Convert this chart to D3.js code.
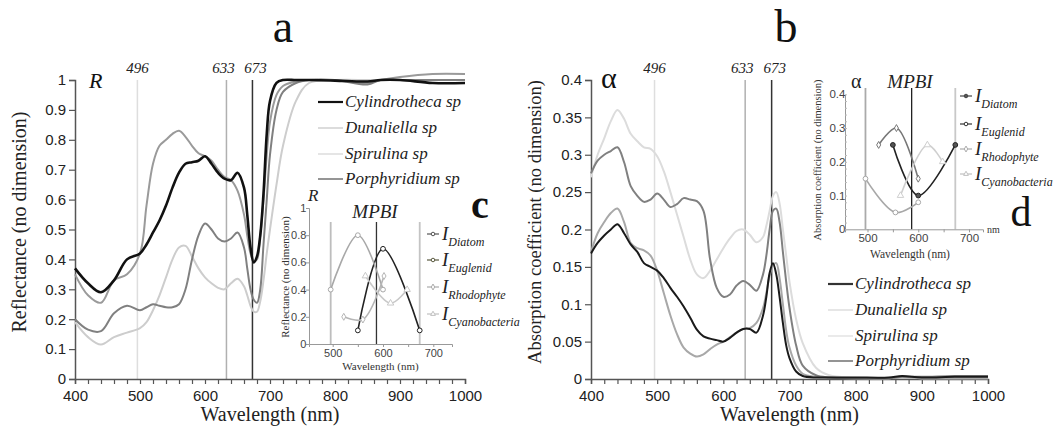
<!DOCTYPE html>
<html><head><meta charset="utf-8">
<script src="https://cdn.jsdelivr.net/npm/d3@7/dist/d3.min.js"></script>
<style>body{margin:0;background:#fff}svg{display:block}</style>
</head><body><svg id="c" width="1054" height="430"></svg>
<script>
// ---------- DATA ----------
const seriesNames = ["Cylindrotheca sp","Dunaliella sp","Spirulina sp","Porphyridium sp"];
const markerNm = [496, 633, 673];
// Panel a: reflectance
const wlA = [400,420,440,460,480,500,510,520,530,540,550,560,570,580,590,600,610,620,630,640,650,660,665,670,675,680,685,690,695,700,710,720,740,760,800,850,870,900,950,1000];
const cylA = [.37,.32,.29,.33,.40,.42,.45,.49,.53,.58,.64,.69,.72,.725,.73,.745,.72,.69,.67,.665,.69,.64,.55,.44,.39,.41,.48,.62,.82,.93,.99,1.0,1.0,1.0,.998,.995,1.0,1.0,.99,.99];
const dunA = [.35,.28,.255,.33,.35,.42,.58,.72,.78,.80,.82,.83,.81,.78,.755,.745,.73,.70,.675,.665,.63,.55,.48,.42,.395,.40,.48,.60,.75,.86,.95,.98,.995,1.0,1.0,.99,1.0,1.01,1.02,1.02];
const spiA = [.19,.14,.115,.14,.155,.17,.19,.23,.28,.34,.40,.44,.445,.41,.37,.34,.32,.305,.30,.32,.335,.31,.28,.245,.225,.225,.26,.33,.42,.50,.65,.78,.93,.99,1.0,1.0,1.0,1.0,1.0,1.0];
const porA = [.20,.165,.16,.22,.245,.23,.24,.25,.245,.24,.24,.25,.30,.40,.48,.52,.50,.47,.46,.47,.49,.44,.37,.30,.265,.255,.30,.45,.60,.75,.90,.96,.99,1.0,1.0,.985,1.0,1.0,1.0,1.0];
// Panel b: absorption coefficient
const wlB = [400,410,420,430,440,450,460,470,480,490,500,510,520,530,540,550,560,570,580,590,600,610,620,630,640,650,660,665,670,675,680,685,690,695,700,710,720,740,760,800,850,870,900,950,1000];
const cylB = [.168,.182,.192,.200,.207,.195,.180,.170,.155,.150,.145,.135,.122,.110,.097,.082,.066,.057,.054,.052,.050,.055,.062,.067,.067,.062,.085,.110,.142,.155,.140,.110,.075,.045,.028,.010,.004,.002,.002,.002,.002,.004,.002,.003,.003];
const dunB = [.170,.195,.210,.222,.228,.210,.182,.175,.172,.165,.145,.115,.085,.060,.042,.034,.030,.033,.040,.046,.050,.056,.062,.067,.068,.075,.095,.115,.138,.152,.155,.135,.100,.065,.042,.018,.007,.003,.002,.001,.001,.002,.001,.001,.001];
const spiB = [.270,.300,.322,.345,.360,.348,.328,.318,.310,.308,.298,.278,.250,.220,.190,.160,.140,.135,.145,.160,.175,.188,.198,.200,.193,.183,.190,.205,.225,.245,.250,.235,.200,.165,.130,.080,.048,.015,.005,.002,.001,.002,.001,.001,.001];
const porB = [.275,.292,.300,.305,.310,.290,.258,.245,.237,.240,.248,.240,.230,.234,.242,.240,.238,.225,.160,.122,.110,.113,.125,.131,.126,.118,.140,.165,.200,.225,.228,.210,.170,.130,.095,.045,.018,.005,.002,.001,.001,.003,.003,.004,.004];
// Insets c (reflectance) and d (absorption): MPBI indices
const indexNames = ["Diatom","Euglenid","Rhodophyte","Cyanobacteria"];
const mpbiNm = [496, 587, 673];
const diatomC_x = [550,600,673], diatomC_y = [0.1,0.7,0.1];
const euglC_x = [496,550,600],  euglC_y = [0.4,0.8,0.4];
const rhodC_x = [522,560,602],  rhodC_y = [0.2,0.18,0.5];
const cyanC_x = [565,615,648],  cyanC_y = [0.5,0.3,0.4];
const diatomD_x = [550,600,673], diatomD_y = [0.25,0.1,0.25];
const euglD_x = [496,555,600],  euglD_y = [0.15,0.05,0.08];
const rhodD_x = [522,557,600],  rhodD_y = [0.25,0.30,0.15];
const cyanD_x = [565,618,648],  cyanD_y = [0.1,0.25,0.2];
const yTicksA = [0,0.1,0.2,0.3,0.4,0.5,0.6,0.7,0.8,0.9,1];
const yTicksB = [0,0.05,0.1,0.15,0.2,0.25,0.3,0.35,0.4];
const xTicks = [400,500,600,700,800,900,1000];

// ---------- DRAW ----------
const svg = d3.select("#c");
const SERIF = '"Liberation Serif", "Times New Roman", Times, "DejaVu Serif", "Noto Serif", serif';
const SANS = '"Liberation Sans", Arial, sans-serif';
const fmt = v => String(+v.toFixed(2));
const colA = ["#111","#9a9a9a","#cdcdcd","#808080"];
const colB = ["#1a1a1a","#a8a8a8","#dcdcdc","#808080"];
const legColA = ["#111","#d8d8d8","#e2e2e2","#8a8a8a"];
const legColB = ["#333","#e4e4e4","#e8e8e8","#888"];
const widA = [2.6,2,2,2];
const widB = [2,2,2,2];
const vlineCol = ["#dedede","#b0b0b0","#333"];

function T(sel){ return sel.style("font-family", SERIF); }

function mainPanel(o){
  const g = svg.append("g");
  const x = d3.scaleLinear().domain([400,1000]).range(o.xr);
  const y = d3.scaleLinear().domain([0,o.ymax]).range([379,80]);
  markerNm.forEach((nm,i)=>{
    g.append("line").attr("x1",x(nm)).attr("x2",x(nm)).attr("y1",y(o.ymax)).attr("y2",y(0))
      .attr("stroke",vlineCol[i]).attr("stroke-width",1.5);
  });
  g.selectAll("text.vl").data(markerNm).join("text")
    .attr("x",d=>x(d)+(d===633?-3:d===673?3:0)).attr("y",73).attr("text-anchor","middle")
    .call(T).attr("font-style","italic").attr("font-size",15).attr("fill","#222").text(d=>d);
  const xa = d3.axisBottom(x).tickValues(d3.range(400,1001,20)).tickSize(5).tickFormat(d=>xTicks.includes(d)?d:"");
  const gx = g.append("g").attr("transform","translate(0,379)").call(xa);
  gx.select(".domain").attr("stroke","#555").attr("stroke-width",1.5);
  gx.selectAll(".tick line").attr("stroke","#555").attr("stroke-width",1.2);
  gx.selectAll("text").style("font-family",SANS).attr("font-size",15).attr("fill","#222").attr("dy","0.95em");
  const ya = d3.axisLeft(y).tickValues(o.yt).tickSize(6).tickFormat(fmt);
  const gy = g.append("g").attr("transform",`translate(${o.xr[0]},0)`).call(ya);
  gy.select(".domain").attr("stroke","#555").attr("stroke-width",1.5);
  gy.selectAll(".tick line").attr("stroke","#555").attr("stroke-width",1.2);
  gy.selectAll("text").style("font-family",SANS).attr("font-size",15).attr("fill","#222");
  const line = d3.line().curve(d3.curveCatmullRom.alpha(0.5)).x(d=>x(d[0])).y(d=>y(d[1]));
  [2,1,3,0].forEach(i=>{
    g.append("path").datum(o.wl.map((w,k)=>[w,o.vals[i][k]])).attr("d",line)
      .attr("fill","none").attr("stroke",o.col[i]).attr("stroke-width",o.wid[i]);
  });
  seriesNames.forEach((n,i)=>{
    const ly = o.ly[i];
    g.append("line").attr("x1",o.lx).attr("x2",o.lx+25).attr("y1",ly).attr("y2",ly)
      .attr("stroke",o.lcol[i]).attr("stroke-width",i===0?2.2:1.8);
    g.append("text").attr("x",o.lx+27).attr("y",ly+5).call(T).attr("font-style","italic")
      .attr("font-size",17).attr("fill","#222").text(n);
  });
  g.append("text").attr("x",o.tx).attr("y",42).attr("text-anchor","middle").call(T)
    .attr("font-size",46).attr("fill","#111").text(o.title);
  g.append("text").attr("x",(o.xr[0]+o.xr[1])/2).attr("y",421).attr("text-anchor","middle").call(T)
    .attr("font-size",20).attr("fill","#222").text("Wavelength (nm)");
  g.append("text").attr("transform",`translate(${o.ylx},${o.lyc}) rotate(-90)`).attr("text-anchor","middle")
    .call(T).attr("font-size",o.ylfs).attr("fill","#222").text(o.ylab);
  g.append("text").attr("x",o.sx).attr("y",88).call(T).attr("font-style",o.sstyle)
    .attr("font-size",o.sfs).attr("fill","#111").text(o.sym);
}

mainPanel({xr:[75,465], ymax:1, yt:yTicksA, wl:wlA, vals:[cylA,dunA,spiA,porA], col:colA, lcol:legColA, wid:widA,
  lx:318, ly:[102,128,154,179], tx:283, title:"a", ylx:26, lyc:222, ylfs:20, ylab:"Reflectance (no dimension)",
  sx:89, sym:"R", sstyle:"italic", sfs:22});
mainPanel({xr:[591,988], ymax:0.4, yt:yTicksB, wl:wlB, vals:[cylB,dunB,spiB,porB], col:colB, lcol:legColB, wid:widB,
  lx:828, ly:[284,310,336,361], tx:786, title:"b", ylx:541, lyc:222, ylfs:18.5, ylab:"Absorption coefficient (no dimension)",
  sx:601, sym:"α", sstyle:"normal", sfs:30});

// ---------- INSETS ----------
function inset(o){
  const g = svg.append("g");
  const x = d3.scaleLinear().domain([500,700]).range(o.xr);
  const y = d3.scaleLinear().domain([0,o.ymax]).range(o.yr);
  const xd = [x.invert(o.ax0), x.invert(o.ax1)];
  mpbiNm.forEach((nm,i)=>{
    g.append("line").attr("x1",x(nm)).attr("x2",x(nm)).attr("y1",o.vtop).attr("y2",o.yr[0])
      .attr("stroke",o.vcol[i]).attr("stroke-width",i===1?1.3:1.8);
  });
  const xs = d3.scaleLinear().domain(xd).range([o.ax0,o.ax1]);
  const gx = g.append("g").attr("transform",`translate(0,${o.yr[0]})`)
    .call(d3.axisBottom(xs).tickValues([500,550,600,650,700]).tickSize(3).tickFormat(d=>d%100===0?d:""));
  gx.select(".domain").attr("stroke","#999");
  gx.selectAll(".tick line").attr("stroke","#999");
  gx.selectAll("text").style("font-family",SANS).attr("font-size",o.fs).attr("fill","#444").attr("dy","0.6em");
  const gy = g.append("g").attr("transform",`translate(${o.ax0},0)`)
    .call(d3.axisLeft(y).tickValues(o.yt).tickSize(o.minor?0:3).tickFormat(fmt));
  gy.select(".domain").attr("stroke","#999");
  gy.selectAll(".tick line").attr("stroke","#999");
  gy.selectAll("text").style("font-family",SANS).attr("font-size",o.fs).attr("fill","#444").attr("dx","0.3em");
  if(o.minor){
    g.append("g").attr("transform",`translate(${o.ax0},0)`)
      .call(d3.axisRight(y).tickValues(d3.range(0,o.ymax+0.001,0.02)).tickSize(2).tickFormat(""))
      .call(s=>{s.select(".domain").remove(); s.selectAll("line").attr("stroke","#bbb");});
  }
  const line = d3.line().curve(d3.curveCatmullRom.alpha(0.5)).x(d=>x(d[0])).y(d=>y(d[1]));
  o.series.forEach((s,i)=>{
    const pts = s.x.map((v,k)=>[v,s.y[k]]);
    g.append("path").datum(pts).attr("d",line).attr("fill","none").attr("stroke",o.scol[i]).attr("stroke-width",1.6);
    pts.forEach(p=>{
      const sym = d3.symbol().type(o.mark[i]).size(i===2?14:18);
      g.append("path").attr("d",sym).attr("transform",`translate(${x(p[0])},${y(p[1])})`)
        .attr("fill",o.mfill[i]).attr("stroke",o.scol[i]).attr("stroke-width",1);
    });
  });
  indexNames.forEach((n,i)=>{
    const ly = o.legY[i];
    g.append("line").attr("x1",o.legX).attr("x2",o.legX+12).attr("y1",ly-6).attr("y2",ly-6)
      .attr("stroke",o.lcol[i]).attr("stroke-width",1.2);
    const sym = d3.symbol().type(o.mark[i]).size(10);
    g.append("path").attr("d",sym).attr("transform",`translate(${o.legX+6},${ly-6})`)
      .attr("fill",o.mfill[i]).attr("stroke",o.lcol[i]).attr("stroke-width",1);
    const t = g.append("text").attr("x",o.legX+15).attr("y",ly).call(T).attr("font-style","italic").attr("fill","#222");
    t.append("tspan").attr("font-size",19).text("I");
    t.append("tspan").attr("font-size",12).attr("dy",6).text(n);
  });
  g.append("text").attr("x",o.mpx).attr("y",o.mpy).attr("text-anchor","middle").call(T)
    .attr("font-style","italic").attr("font-size",19).attr("fill","#222").text("MPBI");
  g.append("text").attr("x",(o.ax0+o.ax1)/2+o.wlx).attr("y",o.wly).attr("text-anchor","middle").call(T)
    .attr("font-size",o.wfs).attr("fill","#333").text("Wavelength (nm)");
  g.append("text").attr("transform",`translate(${o.ylx},${o.ylc}) rotate(-90)`).attr("text-anchor","middle")
    .call(T).attr("font-size",o.yfs).attr("fill","#333").text(o.ylab);
  g.append("text").attr("x",o.sx).attr("y",o.sy).call(T).attr("font-style",o.sst)
    .attr("font-size",o.sfs).attr("fill","#222").text(o.sym);
  g.append("text").attr("x",o.tx).attr("y",o.ty).attr("text-anchor","middle").call(T)
    .attr("font-weight",o.tw).attr("font-size",o.tfs).attr("fill","#111").text(o.title);
  if(o.nm) g.append("text").attr("x",o.ax1+4).attr("y",o.yr[0]+4).call(T)
    .attr("font-size",10).attr("fill","#333").text("nm");
}

inset({xr:[332.7,433.3], ymax:1, yr:[344,208], ax0:309, ax1:452, vtop:222, yt:[0,0.2,0.4,0.6,0.8,1], fs:11, wfs:11,
  vcol:["#bdbdbd","#333","#c4c4c4"],
  series:[{x:diatomC_x,y:diatomC_y},{x:euglC_x,y:euglC_y},{x:rhodC_x,y:rhodC_y},{x:cyanC_x,y:cyanC_y}],
  scol:["#222","#a8a8a8","#b5b5b5","#c8c8c8"], lcol:["#555","#5a5a40","#aaa","#c0c0c0"],
  mark:[d3.symbolCircle,d3.symbolCircle,d3.symbolDiamond,d3.symbolTriangle], mfill:["#fff","#fff","#fff","#fff"],
  legX:427, legY:[240,266,293,320], mpx:375, mpy:218, wlx:0, wly:370, ylx:289, ylc:277, yfs:11,
  ylab:"Reflectance (no dimension)", sx:308, sy:201, sst:"italic", sfs:17, sym:"R",
  tx:480, ty:218, tw:"bold", tfs:40, title:"c", nm:false});
inset({xr:[867.5,969], ymax:0.4, yr:[229.3,94.3], ax0:845, ax1:983, vtop:88, yt:[0,0.1,0.2,0.3,0.4], fs:11.5, wfs:11.5, minor:true,
  vcol:["#aaa","#222","#c8c8c8"],
  series:[{x:diatomD_x,y:diatomD_y},{x:euglD_x,y:euglD_y},{x:rhodD_x,y:rhodD_y},{x:cyanD_x,y:cyanD_y}],
  scol:["#222","#a8a8a8","#777","#cfcfcf"], lcol:["#444","#333","#aaa","#c0c0c0"],
  mark:[d3.symbolCircle,d3.symbolCircle,d3.symbolDiamond,d3.symbolTriangle], mfill:["#555","#fff","#fff","#fff"],
  legX:960, legY:[102,130,155,180], mpx:910, mpy:88, wlx:-4, wly:258, ylx:821, ylc:160, yfs:10.5,
  ylab:"Absorption coefficient (no dimension)", sx:851, sy:88, sst:"normal", sfs:20, sym:"α",
  tx:1021, ty:226, tw:"normal", tfs:42, title:"d", nm:true});
</script>
</body></html>
